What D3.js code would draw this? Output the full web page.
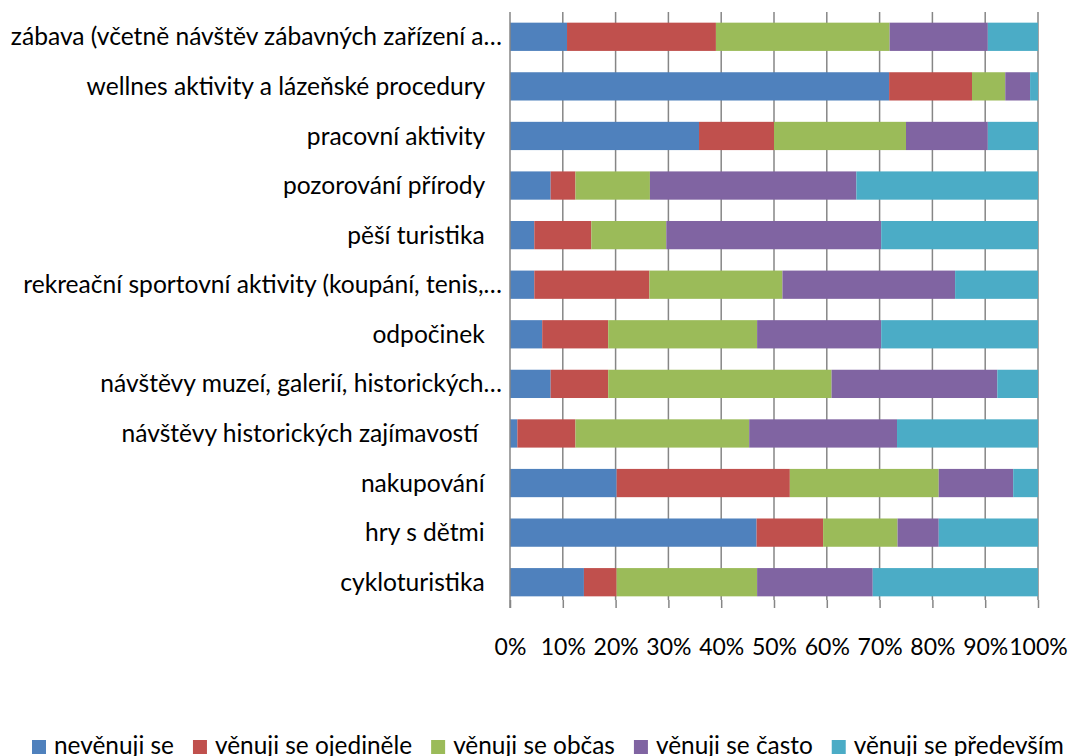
<!DOCTYPE html>
<html><head><meta charset="utf-8">
<script src="https://cdn.jsdelivr.net/npm/d3@7"></script>
<style>body{margin:0;background:#fff}svg{display:block}text{font-family:Lato,"Open Sans",sans-serif;fill:#000}</style>
</head><body>
<script>
const categories = [
  "zábava (včetně návštěv zábavných zařízení a…",
  "wellnes aktivity a lázeňské procedury ",
  "pracovní aktivity ",
  "pozorování přírody ",
  "pěší turistika ",
  "rekreační sportovní aktivity (koupání, tenis,…",
  "odpočinek ",
  "návštěvy muzeí, galerií, historických…",
  "návštěvy historických zajímavostí  ",
  "nakupování ",
  "hry s dětmi ",
  "cykloturistika "
];
const seriesNames = ["nevěnuji se","věnuji se ojediněle","věnuji se občas","věnuji se často","věnuji se především"];
const colors = ["#4F81BD","#C0504D","#9BBB59","#8064A2","#4BACC6"];
const nevenuji   = [10.8,71.8,35.8, 7.7, 4.6, 4.6, 6.1, 7.7, 1.4,20.2,46.7,14.0];
const ojedinele  = [28.2,15.7,14.2, 4.7,10.8,21.8,12.5,10.9,11.0,32.8,12.6, 6.2];
const obcas      = [32.9, 6.3,25.0,14.1,14.2,25.2,28.2,42.3,32.9,28.2,14.1,26.6];
const casto      = [18.6, 4.7,15.5,39.1,40.7,32.7,23.5,31.4,28.0,14.1, 7.8,21.9];
const predevsim  = [ 9.5, 1.5, 9.5,34.4,29.7,15.7,29.7, 7.7,26.7, 4.7,18.8,31.3];
const tickValues = [0,0.1,0.2,0.3,0.4,0.5,0.6,0.7,0.8,0.9,1.0];

const W=1072,H=756;
const svg=d3.select("body").append("svg").attr("width",W).attr("height",H);
const x=d3.scaleLinear().domain([0,1]).range([510,1038]);
const y=d3.scaleBand().domain(categories).range([12,607]).paddingInner(0.43).paddingOuter(0.215);

const series=[nevenuji,ojedinele,obcas,casto,predevsim];
const rows=categories.map((c,i)=>{const o={cat:c};seriesNames.forEach((s,k)=>o[s]=series[k][i]);return o;});
const stack=d3.stack().keys(seriesNames).offset(d3.stackOffsetExpand)(rows);

// gridlines
svg.append("g").selectAll("line").data(tickValues.slice(1)).join("line")
  .attr("x1",d=>x(d)).attr("x2",d=>x(d)).attr("y1",12).attr("y2",600)
  .attr("stroke","#868686").attr("stroke-width",1.5);

// bars
svg.append("g").selectAll("g").data(stack).join("g").attr("fill",(d,i)=>colors[i])
  .selectAll("rect").data(d=>d).join("rect")
  .attr("x",d=>x(d[0])).attr("width",d=>x(d[1])-x(d[0]))
  .attr("y",d=>y(d.data.cat)).attr("height",y.bandwidth());

// x axis
const xa=svg.append("g").attr("transform","translate(0,600)")
  .call(d3.axisBottom(x).tickValues(tickValues).tickFormat(d3.format(".0%")).tickSize(8).tickPadding(31));
xa.select(".domain").remove();
xa.selectAll(".tick line").attr("stroke","#868686").attr("stroke-width",1.5);
xa.selectAll(".tick text").attr("font-size",23).attr("font-family","Lato").attr("fill","#000");

// y axis line
svg.append("line").attr("x1",510).attr("x2",510).attr("y1",12).attr("y2",608)
  .attr("stroke","#868686").attr("stroke-width",1.5);

// category labels
svg.append("g").selectAll("text").data(categories).join("text")
  .attr("x",d=>d.endsWith("…")?502:491).attr("y",d=>y(d)+y.bandwidth()/2).attr("dy","0.35em")
  .attr("text-anchor","end").style("white-space","pre").attr("font-size",24.6)
  .text(d=>d);

// legend
const lg=svg.append("g");
let lx=32;
seriesNames.forEach((s,i)=>{
  lg.append("rect").attr("x",lx).attr("y",740).attr("width",14).attr("height",14).attr("fill",colors[i]);
  const t=lg.append("text").attr("x",lx+22).attr("y",754).attr("font-size",24.4).text(s);
  lx+=22+t.node().getComputedTextLength()+19;
});
</script>
</body></html>
